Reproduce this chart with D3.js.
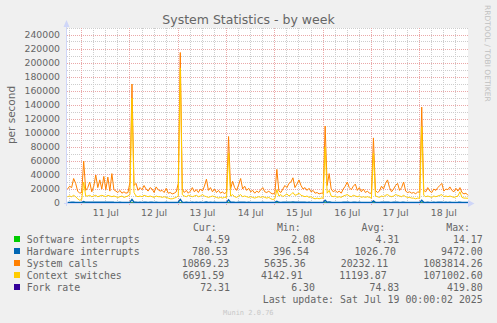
<!DOCTYPE html>
<html>
<head>
<meta charset="utf-8">
<script src="https://cdn.jsdelivr.net/npm/d3@7"></script>
<style>
  body { margin: 0; background: #f0f0f0; }
  svg { display: block; }
</style>
</head>
<body>
<svg id="chart" width="497" height="323"></svg>
<script>
// hourly averages from Jul 10 17:00 to Jul 19 00:00 (UTC), in thousands per second
var sysCallsK = [
  20, 24, 22, 35, 28, 17, 14,
  15, 60, 18, 22, 30, 16, 24, 40, 22, 33, 20, 38, 19, 37, 17, 42, 19, 17, 15, 18, 14, 16, 14, 15,
  30, 170, 25, 28, 18, 22, 19, 25, 20, 17, 22, 20, 15, 23, 19, 17, 18, 15, 21, 14, 15, 13, 14, 16,
  28, 215, 20, 15, 18, 14, 17, 22, 16, 19, 15, 20, 17, 24, 34, 18, 22, 16, 20, 15, 18, 14, 16, 13,
  16, 95, 20, 31, 22, 18, 26, 35, 20, 24, 18, 21, 16, 18, 14, 17, 15, 19, 22, 16, 15, 17, 14, 13,
  14, 48, 17, 15, 20, 25, 22, 28, 30, 36, 22, 27, 33, 25, 20, 22, 18, 21, 16, 18, 14, 15, 13, 14,
  14, 110, 25, 42, 20, 16, 18, 15, 17, 14, 20, 24, 30, 22, 19, 24, 27, 18, 22, 16, 20, 15, 17, 14,
  14, 93, 18, 15, 17, 24, 20, 28, 33, 22, 16, 20, 25, 28, 18, 22, 30, 17, 15, 16, 14, 15, 13, 16,
  15, 137, 18, 16, 22, 17, 15, 20, 18, 22, 25, 28, 17, 20, 19, 23, 18, 16, 21, 17, 22, 15, 13, 14, 10.9
];
var ctxSwitchesK = [
  9, 10, 9, 11, 9, 6, 4,
  5, 30, 10, 10, 11, 9, 10, 11, 9, 10, 11, 10, 9, 11, 10, 9, 10, 9, 8, 9, 10, 8, 9, 10,
  12, 150, 15, 10, 9, 10, 9, 11, 10, 9, 10, 9, 8, 10, 9, 9, 8, 9, 8, 7, 6, 6, 7, 8,
  10, 193, 12, 10, 9, 11, 10, 9, 10, 11, 9, 10, 12, 10, 9, 8, 9, 10, 9, 8, 7, 8, 7, 8,
  8, 71, 10, 12, 9, 8, 10, 12, 9, 10, 9, 8, 9, 8, 7, 8, 9, 8, 9, 8, 7, 8, 6, 5,
  6, 19, 10, 12, 9, 11, 13, 10, 12, 15, 11, 12, 14, 11, 10, 9, 10, 8, 9, 7, 6, 7, 6, 7,
  7, 80, 14, 18, 10, 9, 10, 8, 9, 8, 10, 11, 12, 10, 9, 11, 10, 9, 10, 8, 9, 8, 9, 8,
  7, 71, 10, 9, 8, 10, 9, 11, 12, 10, 9, 10, 12, 11, 10, 9, 11, 9, 8, 8, 7, 7, 6, 7,
  7, 109, 11, 9, 10, 9, 8, 10, 9, 10, 11, 12, 9, 10, 9, 10, 9, 8, 9, 10, 16, 8, 7, 7, 6.7
];
var hwIrqK = [
  0.9, 0.9, 1.0, 1.0, 0.9, 0.8, 0.8,
  0.8, 2.0, 1.0, 1.1, 1.2, 1.0, 1.1, 1.3, 1.1, 1.2, 1.0, 1.2, 1.0, 1.2, 1.0, 1.3, 1.0, 0.9, 0.9, 1.0, 0.8, 0.9, 0.8, 0.9,
  1.2, 5.0, 1.3, 1.1, 0.9, 1.0, 0.9, 1.1, 1.0, 0.9, 1.0, 1.0, 0.8, 1.0, 0.9, 0.9, 0.9, 0.8, 1.0, 0.8, 0.8, 0.7, 0.8, 0.8,
  1.1, 5.2, 1.2, 0.9, 1.0, 0.8, 0.9, 1.0, 0.9, 1.0, 0.8, 1.0, 0.9, 1.1, 1.4, 0.9, 1.0, 0.9, 1.0, 0.8, 0.9, 0.8, 0.8, 0.7,
  0.8, 4.5, 1.0, 1.3, 1.0, 0.9, 1.1, 1.3, 1.0, 1.1, 0.9, 1.0, 0.9, 0.9, 0.8, 0.9, 0.8, 0.9, 1.0, 0.9, 0.8, 0.9, 0.8, 0.7,
  0.8, 2.5, 1.0, 0.9, 1.0, 1.1, 1.0, 1.2, 1.2, 1.4, 1.0, 1.1, 1.3, 1.1, 1.0, 1.0, 0.9, 1.0, 0.9, 0.9, 0.8, 0.8, 0.7, 0.8,
  0.8, 4.0, 1.1, 1.6, 1.0, 0.9, 0.9, 0.8, 0.9, 0.8, 1.0, 1.0, 1.2, 1.0, 0.9, 1.0, 1.1, 0.9, 1.0, 0.9, 0.9, 0.8, 0.9, 0.8,
  0.8, 3.0, 1.0, 0.9, 0.9, 1.0, 1.0, 1.1, 1.2, 1.0, 0.9, 1.0, 1.1, 1.1, 0.9, 1.0, 1.2, 0.9, 0.8, 0.9, 0.8, 0.8, 0.7, 0.8,
  0.8, 4.0, 1.0, 0.9, 1.0, 0.9, 0.9, 1.0, 0.9, 1.0, 1.1, 1.1, 0.9, 1.0, 0.9, 1.0, 0.9, 0.8, 0.9, 1.0, 1.2, 0.8, 0.8, 0.8, 0.78
];
// 6-hourly from Jul 10 18:00, per second
var forkRate = [70, 80, 120, 75, 72, 85, 130, 78, 74, 82, 125, 76, 71, 80, 118, 74, 70,
  79, 122, 75, 73, 84, 127, 77, 72, 80, 121, 76, 71, 78, 119, 74, 72, 72.3];
var softIrq = [4.3, 4.4, 4.6, 4.2, 4.3, 4.4, 4.5, 4.2, 4.3, 4.3, 4.6, 4.2, 4.2, 4.4, 4.5, 4.3, 4.3,
  4.3, 4.6, 4.2, 4.3, 4.4, 4.5, 4.2, 4.3, 4.3, 4.5, 4.2, 4.2, 4.4, 4.5, 4.3, 4.4, 4.59];

var legendNames = ["Software interrupts", "Hardware interrupts", "System calls", "Context switches", "Fork rate"];
var legendColors = ["#00cc00", "#0066b3", "#ff8000", "#ffcc00", "#330099"];
var curVals = ["4.59", "780.53", "10869.23", "6691.59", "72.31"];
var minVals = ["2.08", "396.54", "5635.36", "4142.91", "6.30"];
var avgVals = ["4.31", "1026.70", "20232.11", "11193.87", "74.83"];
var maxVals = ["14.17", "9472.00", "1083814.26", "1071002.60", "419.80"];

function draw() {
  var svg = d3.select("#chart");
  var width = 497, height = 323;
  var pLeft = 67, pRight = 468, pTop = 28, pBottom = 203;

  var endTime = new Date(Date.UTC(2025, 6, 19));
  var startTime = new Date(endTime - 199.3 * 3600e3);
  var hourStart = Date.UTC(2025, 6, 10, 17);
  var sixStart = Date.UTC(2025, 6, 10, 18);

  var x = d3.scaleUtc().domain([startTime, endTime]).range([pLeft, pRight]);
  var y = d3.scaleLinear().domain([0, 250000]).range([pBottom, pTop]);

  function hourly(arr) {
    return arr.map(function (v, i) { return { t: new Date(hourStart + i * 3600e3), v: v * 1000 }; });
  }
  function sixHourly(arr) {
    return arr.map(function (v, i) { return { t: new Date(sixStart + i * 6 * 3600e3), v: v }; });
  }

  svg.append("rect").attr("width", width).attr("height", height).attr("fill", "#f0f0f0");
  svg.append("rect").attr("x", pLeft).attr("y", pTop).attr("width", pRight - pLeft).attr("height", pBottom - pTop)
    .attr("fill", "#ffffff");

  var px = function (v) { return Math.floor(v) + 0.5; };
  var minorCol = "#cdcdcd", majorCol = "#eaa8a8";

  // grid
  var grid = svg.append("g");
  var yt = y.ticks(25);
  grid.selectAll(".hmin").data(yt.filter(function (v) { return v % 20000 !== 0; })).enter().append("line")
    .attr("x1", pLeft).attr("x2", pRight).attr("y1", function (d) { return px(y(d)); }).attr("y2", function (d) { return px(y(d)); })
    .attr("stroke", minorCol).attr("stroke-dasharray", "1,1");
  var hours6 = d3.utcHour.every(6).range(startTime, endTime);
  grid.selectAll(".vmin").data(hours6.filter(function (d) { return d.getUTCHours() !== 0; })).enter().append("line")
    .attr("y1", pTop).attr("y2", pBottom).attr("x1", function (d) { return px(x(d)); }).attr("x2", function (d) { return px(x(d)); })
    .attr("stroke", minorCol).attr("stroke-dasharray", "1,1");
  grid.selectAll(".hmaj").data(yt.filter(function (v) { return v % 20000 === 0 && v > 0; })).enter().append("line")
    .attr("x1", pLeft).attr("x2", pRight).attr("y1", function (d) { return px(y(d)); }).attr("y2", function (d) { return px(y(d)); })
    .attr("stroke", majorCol).attr("stroke-dasharray", "1,1");
  var days = d3.utcDay.range(startTime, endTime);
  grid.selectAll(".vmaj").data(days).enter().append("line")
    .attr("y1", pTop).attr("y2", pBottom + 3).attr("x1", function (d) { return px(x(d)); }).attr("x2", function (d) { return px(x(d)); })
    .attr("stroke", majorCol).attr("stroke-dasharray", "1,1");

  // series; the near-zero ones go first so the blue line stays on top of them
  var line = d3.line().x(function (d) { return x(d.t); }).y(function (d) { return y(d.v); });
  var series = [
    { c: legendColors[4], d: sixHourly(forkRate) },
    { c: legendColors[0], d: sixHourly(softIrq) },
    { c: legendColors[1], d: hourly(hwIrqK) },
    { c: legendColors[2], d: hourly(sysCallsK) },
    { c: legendColors[3], d: hourly(ctxSwitchesK) }
  ];
  svg.append("g").selectAll("path").data(series).enter().append("path")
    .attr("d", function (s) { return line(s.d); }).attr("fill", "none")
    .attr("stroke-width", function (s) { return s.c === legendColors[1] ? 1.4 : 1; })
    .attr("stroke", function (s) { return s.c; });

  // axes
  var axisCol = "#cfd6f8";
  svg.append("line").attr("x1", pLeft - 3).attr("x2", pRight + 1).attr("y1", pBottom + 0.5).attr("y2", pBottom + 0.5).attr("stroke", axisCol);
  svg.append("line").attr("x1", pLeft - 0.5).attr("x2", pLeft - 0.5).attr("y1", pBottom + 3).attr("y2", pTop - 3).attr("stroke", axisCol);
  svg.append("path").attr("d", "M468,200 L474.5,203.5 L468,207 Z").attr("fill", axisCol);
  svg.append("path").attr("d", "M63.5,27 L66.5,20 L69.5,27 Z").attr("fill", axisCol);

  var font = "DejaVu Sans, sans-serif";
  var mono = "DejaVu Sans Mono, monospace";
  var txt = "#666666";

  svg.append("g").selectAll("text").data(yt.filter(function (v) { return v % 20000 === 0; })).enter().append("text")
    .attr("x", 60).attr("y", function (d) { return y(d) + 3.4; })
    .attr("text-anchor", "end").attr("font-family", font).attr("font-size", 9.3).attr("fill", txt)
    .text(d3.format("d"));

  svg.append("g").selectAll("text").data(days).enter().append("text")
    .attr("x", function (d) { return x(new Date(+d + 12 * 3600e3)); }).attr("y", 216)
    .attr("text-anchor", "middle").attr("font-family", font).attr("font-size", 9.3).attr("fill", txt)
    .text(d3.utcFormat("%d %b"));

  svg.append("text").attr("x", 248.5).attr("y", 24).attr("text-anchor", "middle")
    .attr("font-family", font).attr("font-size", 12.5).attr("fill", txt)
    .text("System Statistics - by week");

  svg.append("text").attr("transform", "translate(15,115) rotate(-90)").attr("text-anchor", "middle")
    .attr("font-family", font).attr("font-size", 10.5).attr("fill", txt).text("per second");

  svg.append("text").attr("transform", "translate(485,5) rotate(90)")
    .attr("font-family", font).attr("font-size", 7.5).attr("fill", "#c0c0c0").text("RRDTOOL / TOBI OETIKER");

  // legend
  var lg = svg.append("g").attr("font-family", mono).attr("font-size", 9.9).attr("fill", txt);
  var rowY = [243, 255, 267, 279, 291];
  var curRight = [230, 227.7, 229.3, 224.3, 230];
  var minRight = [315, 309, 305.7, 302.7, 315];
  var avgRight = [399.3, 396, 388.3, 386.7, 399.3];
  [["Cur:", 216.7], ["Min:", 300.7], ["Avg:", 385.3], ["Max:", 470]].forEach(function (h) {
    lg.append("text").attr("x", h[1]).attr("y", 231).attr("text-anchor", "end").text(h[0]);
  });
  legendNames.forEach(function (name, i) {
    lg.append("rect").attr("x", 14).attr("y", rowY[i] - 7).attr("width", 6).attr("height", 6).attr("fill", legendColors[i]);
    lg.append("text").attr("x", 26.7).attr("y", rowY[i]).text(name);
    lg.append("text").attr("x", curRight[i]).attr("y", rowY[i]).attr("text-anchor", "end").text(curVals[i]);
    lg.append("text").attr("x", minRight[i]).attr("y", rowY[i]).attr("text-anchor", "end").text(minVals[i]);
    lg.append("text").attr("x", avgRight[i]).attr("y", rowY[i]).attr("text-anchor", "end").text(avgVals[i]);
    lg.append("text").attr("x", 482.7).attr("y", rowY[i]).attr("text-anchor", "end").text(maxVals[i]);
  });
  lg.append("text").attr("x", 482.7).attr("y", 303).attr("text-anchor", "end").text("Last update: Sat Jul 19 00:00:02 2025");

  svg.append("text").attr("x", 248.3).attr("y", 315).attr("text-anchor", "middle")
    .attr("font-family", mono).attr("font-size", 7).attr("fill", "#c8c8c8").text("Munin 2.0.76");
}

draw();
</script>
</body>
</html>
